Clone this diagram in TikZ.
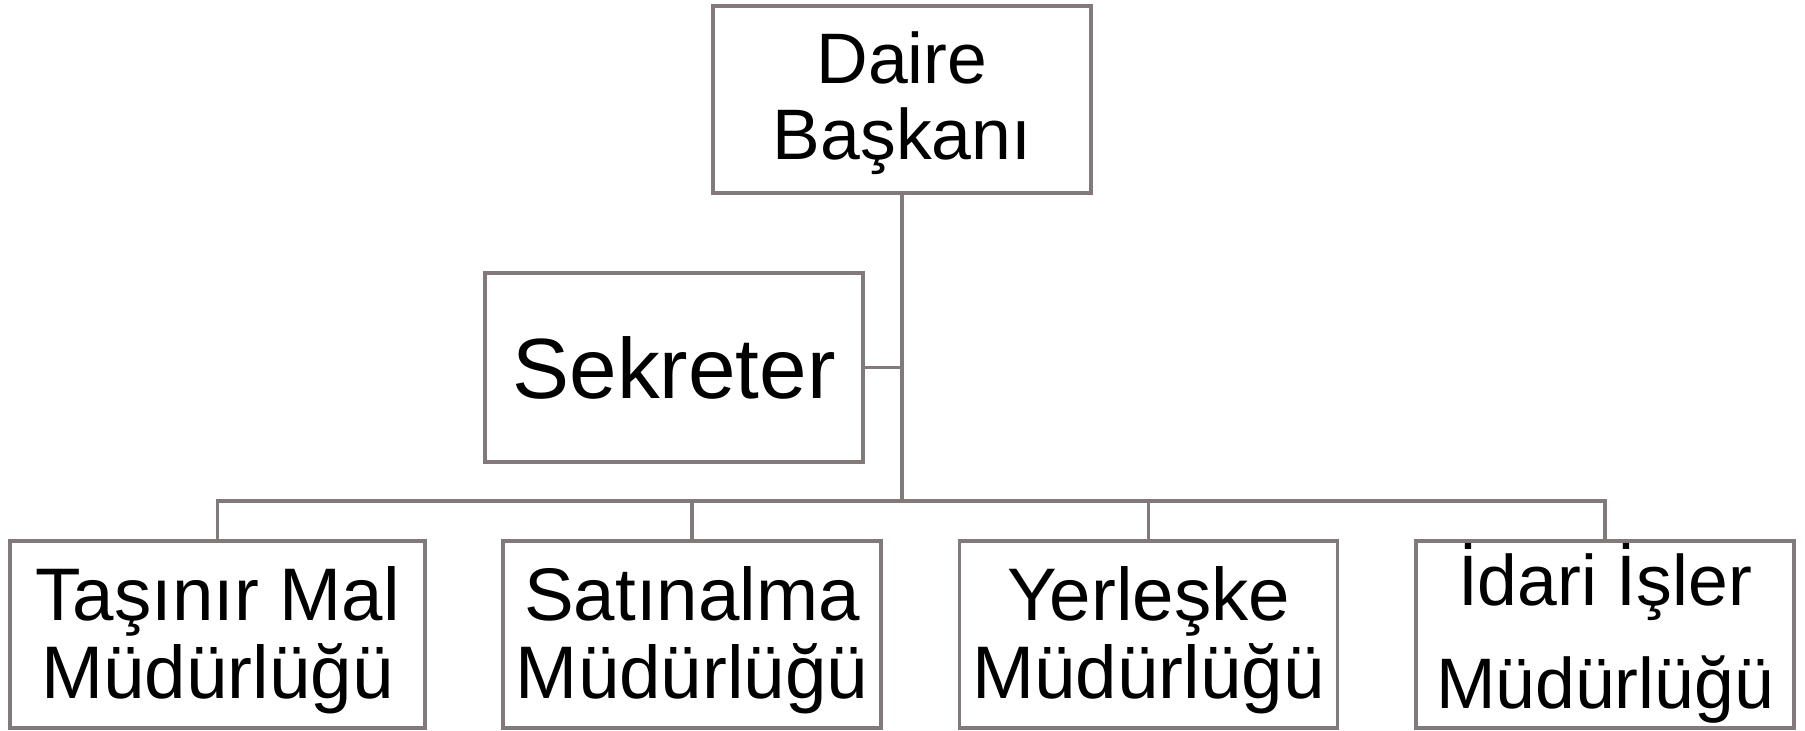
\documentclass[tikz,border=0pt]{standalone}
\usepackage{fontspec}
\setmainfont{Liberation Sans}
\definecolor{linegrey}{RGB}{130,122,122}
\newcommand\upstrut[1]{\rule{0pt}{#1}}
\newcommand\downstrut[1]{\rule[-#1]{0pt}{#1}}
\begin{document}
\begin{tikzpicture}[x=1pt,y=-1pt,
  orgbox/.style={draw=linegrey, line width=3.5pt, fill=white, inner sep=0pt,
    minimum width=378pt, minimum height=187pt, align=center},
  conn/.style={draw=linegrey, line width=3.5pt},
  bigtext/.style={font=\fontsize{74.5}{78}\selectfont}]
\useasboundingbox (0,0) rectangle (1805,731);
\fill[white] (0,0) rectangle (1805,731);
\node[orgbox, font=\fontsize{71.5}{76}\selectfont] (daire) at (902,99.5) {\upstrut{63pt}Daire\\Başkanı\downstrut{20pt}};
\node[orgbox, minimum height=189pt, font=\fontsize{85.5}{88}\selectfont] (sek) at (674,367.5) {Sekreter};
\node[orgbox, minimum width=415pt, bigtext] (tasinir) at (217.5,634.5) {\upstrut{69pt}Taşınır Mal\\Müdürlüğü\downstrut{20pt}};
\node[orgbox, bigtext] (satin) at (692,634.5) {\upstrut{69pt}Satınalma\\Müdürlüğü\downstrut{20pt}};
\node[orgbox, bigtext] (yer) at (1148.5,634.5) {\upstrut{69pt}Yerleşke\\Müdürlüğü\downstrut{20pt}};
\node[orgbox, font=\fontsize{71.5}{103}\selectfont] (idari) at (1605,634.5) {\upstrut{64pt}İdari İşler\\Müdürlüğü\downstrut{20pt}};
\coordinate (bus) at (902,501);
\draw[conn] (daire.south) -- (bus);
\draw[conn] (sek.east) -- (sek.east -| bus);
\draw[conn] (bus) -| (tasinir.north);
\draw[conn] (bus) -| (satin.north);
\draw[conn] (bus) -| (yer.north);
\draw[conn] (bus) -| (idari.north);
\end{tikzpicture}
\end{document}
